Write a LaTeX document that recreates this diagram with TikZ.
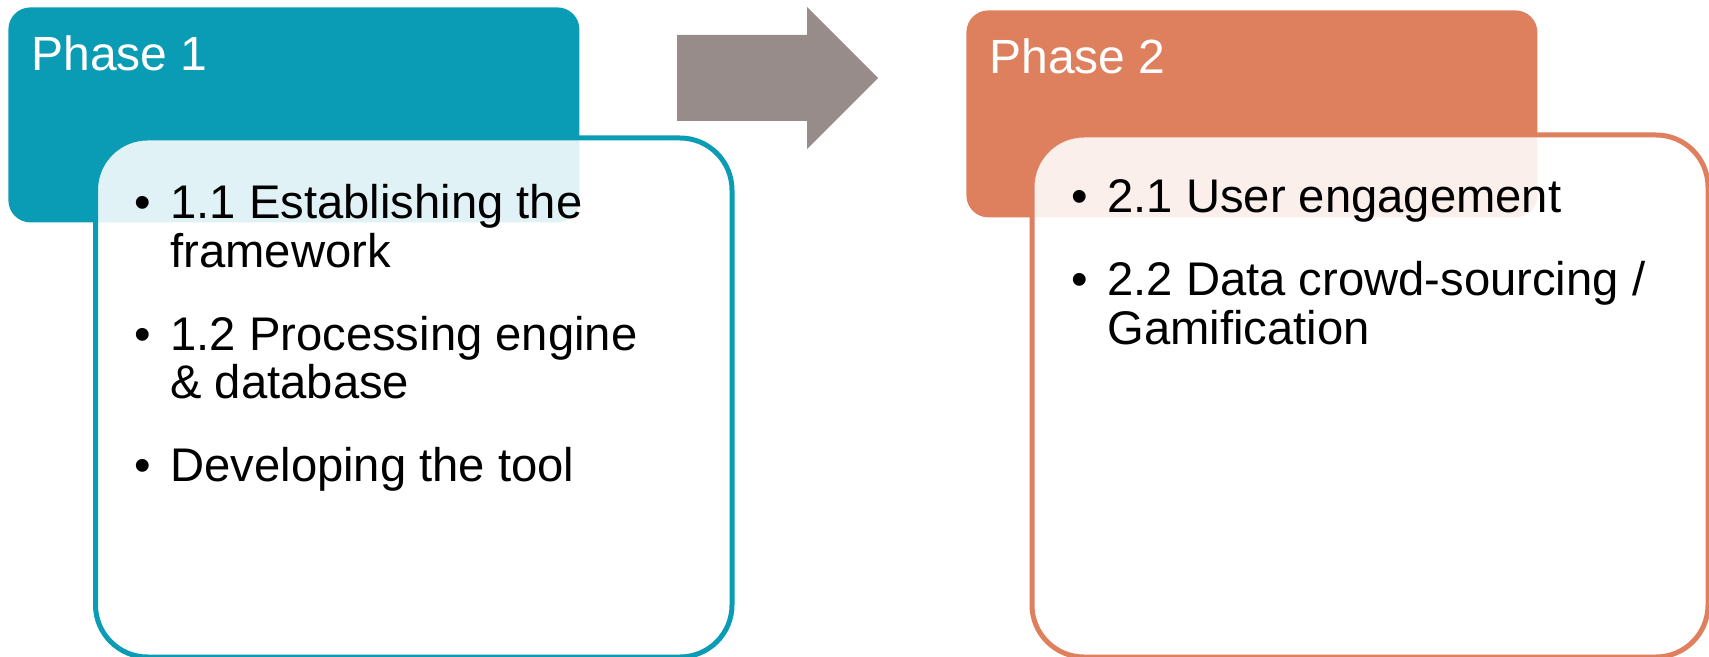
\documentclass[tikz,border=0pt]{standalone}
\usepackage{fontspec}
\setmainfont{Liberation Sans}
\usepackage{tikz}
\usepackage{xcolor}

\definecolor{phaseone}{HTML}{0A9BB5}
\definecolor{phasetwo}{HTML}{DE805E}
\definecolor{arrowgray}{HTML}{978C8A}

\begin{document}
\begin{tikzpicture}[x=0.5pt,y=-0.5pt]
    \tikzstyle{head box}=[rectangle,rounded corners=11pt,inner sep=0,anchor=north west,minimum width=285.5pt]
    \tikzstyle{body box}=[rectangle,draw,line width=2.5pt,rounded corners=26pt,fill=white,fill opacity=.88,inner sep=0,anchor=north west]
    \tikzstyle{head text}=[text=white,inner sep=0,anchor=base west,font=\fontsize{24}{28}\selectfont]
    \tikzstyle{body text}=[inner sep=0,anchor=base west,font=\fontsize{23.6}{24}\selectfont]

    \useasboundingbox (0,0) rectangle (1709,657);

    % phase 1
    \node(h1)[head box,fill=phaseone,minimum height=107.5pt] at (8,7) {};
    \node(b1)[body box,draw=phaseone,minimum width=318.25pt,minimum height=259.5pt] at (93,135.5) {};
    \node(t1)[head text] at (31,71) {Phase 1};
    \node(l1)[body text] at (134,219) {
        \begin{tabular}[t]{@{}p{18pt}@{}l@{}}
            \textbullet & 1.1 Establishing the \\
                        & framework \\[17pt]
            \textbullet & 1.2 Processing engine \\
                        & \& database \\[17pt]
            \textbullet & Developing the tool
        \end{tabular}
    };

    % arrow between phases
    \fill[arrowgray] (677,35) -- (807,35) -- (807,7) -- (878,78) -- (807,149) -- (807,121) -- (677,121) -- cycle;

    % phase 2
    \node(h2)[head box,fill=phasetwo,minimum height=103.5pt] at (966,10) {};
    \node(b2)[body box,draw=phasetwo,minimum width=338pt,minimum height=261pt] at (1029.5,132.5) {};
    \node(t2)[head text] at (989,74) {Phase 2};
    \node(l2)[body text] at (1071,213) {
        \begin{tabular}[t]{@{}p{18pt}@{}l@{}}
            \textbullet & 2.1 User engagement \\[17pt]
            \textbullet & 2.2 Data crowd-sourcing / \\
                        & Gamification
        \end{tabular}
    };
\end{tikzpicture}
\end{document}
